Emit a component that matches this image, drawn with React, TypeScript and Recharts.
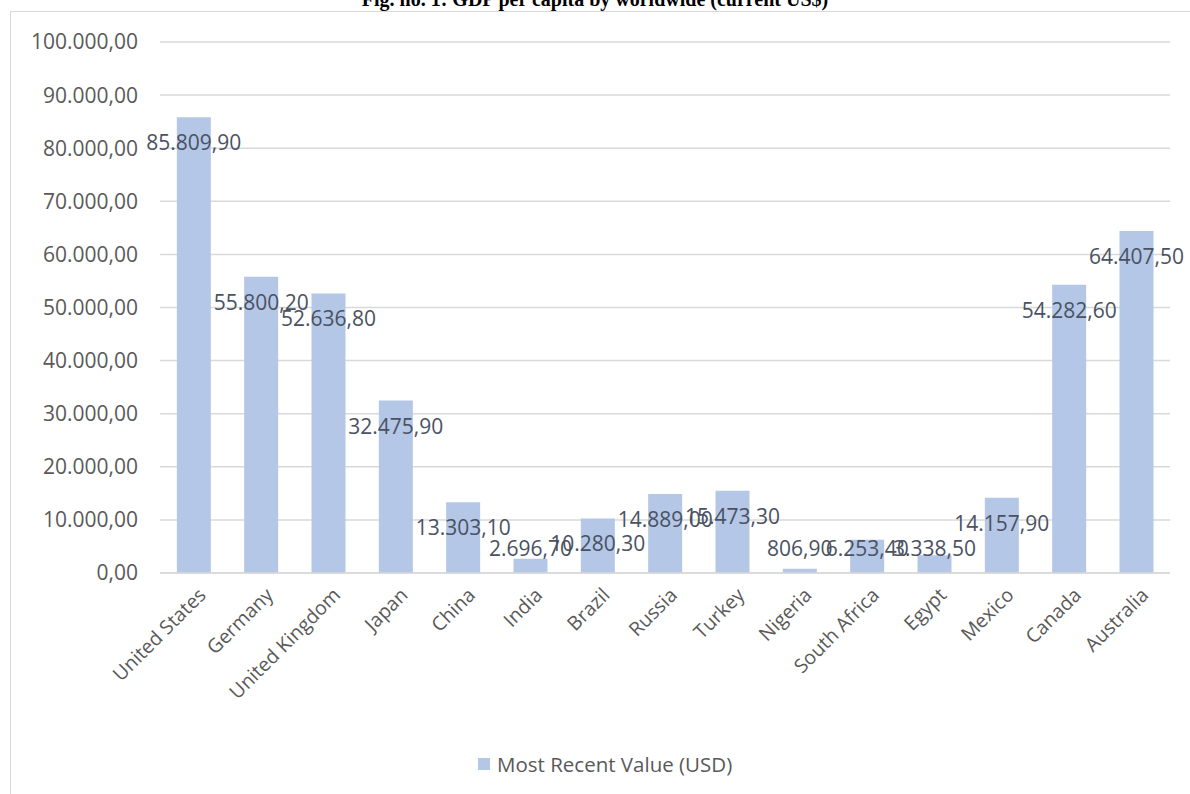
import React from "react"
import { BarChart, Bar, XAxis, YAxis, CartesianGrid, Legend, LabelList } from "recharts"

const countries = [
  "United States", "Germany", "United Kingdom", "Japan", "China", "India", "Brazil", "Russia",
  "Turkey", "Nigeria", "South Africa", "Egypt", "Mexico", "Canada", "Australia",
]
const gdpValues = [
  85809.9, 55800.2, 52636.8, 32475.9, 13303.1, 2696.7, 10280.3, 14889.0,
  15473.3, 806.9, 6253.4, 3338.5, 14157.9, 54282.6, 64407.5,
]
const yTicks = [0, 10000, 20000, 30000, 40000, 50000, 60000, 70000, 80000, 90000, 100000]

const data = countries.map((name, i) => ({ name, value: gdpValues[i] }))

const FONT = "'Open Sans', sans-serif"
const BAR_COLOR = "#b4c7e7"

// 1234.5 -> "1.234,50"
const fmt = (v: number) => {
  const [int, dec] = v.toFixed(2).split(".")
  return int.replace(/\B(?=(\d{3})+(?!\d))/g, ".") + "," + dec
}

const CountryTick = (props: any) => {
  const { x, y, payload } = props
  return (
    <text
      transform={`translate(${x + 8},${y + 10}) rotate(-45)`}
      textAnchor="end"
      dominantBaseline="central"
      fontSize={19.5}
      fontFamily={FONT}
      fill="#595959"
    >
      {payload.value}
    </text>
  )
}

const ValueLabel = (props: any) => {
  const vb = props.viewBox || props
  const { x, y, width, height } = vb
  const cy = Math.min(y + 25, y + height - 25)
  return (
    <text
      x={x + width / 2}
      y={cy}
      textAnchor="middle"
      dominantBaseline="central"
      fontSize={21}
      fontFamily={FONT}
      fill="#4a5262"
    >
      {fmt(props.value)}
    </text>
  )
}

const LegendContent = () => (
  <div style={{ display: "flex", alignItems: "center", fontFamily: FONT, fontSize: 20.5, color: "#595959" }}>
    <span style={{ width: 12, height: 12, background: BAR_COLOR, marginRight: 7, display: "inline-block" }} />
    <span>Most Recent Value (USD)</span>
  </div>
)

export default function App() {
  return (
    <div style={{ position: "absolute", left: 0, top: 0, width: 1190, height: 794, overflow: "hidden", background: "#fff" }}>
      <div
        style={{
          position: "absolute",
          left: 10,
          top: 11,
          width: 1250,
          height: 850,
          border: "1px solid #d9d9d9",
        }}
      />
      <div
        style={{
          position: "absolute",
          left: 0,
          width: 1190,
          top: -11,
          lineHeight: "20px",
          textAlign: "center",
          fontFamily: "'Liberation Serif', 'Times New Roman', serif",
          fontWeight: "bold",
          fontSize: 20,
          color: "#000",
        }}
      >
        Fig. no. 1: GDP per capita by worldwide (current US$)
      </div>
      <div style={{ position: "absolute", left: 0, top: 0 }}>
        <BarChart
          width={1190}
          height={794}
          data={data}
          margin={{ top: 42, right: 20, bottom: 0, left: 0 }}
          barCategoryGap="25%"
        >
          <CartesianGrid vertical={false} stroke="#d9d9d9" strokeWidth={1.5} />
          <XAxis
            dataKey="name"
            height={221}
            interval={0}
            tick={<CountryTick />}
            tickLine={false}
            axisLine={{ stroke: "#d9d9d9", strokeWidth: 1.5 }}
          />
          <YAxis
            width={160}
            domain={[0, 100000]}
            ticks={yTicks}
            tickFormatter={fmt}
            axisLine={false}
            tickLine={false}
            tickSize={0}
            tickMargin={22}
            tick={{ fontSize: 21, fontFamily: FONT, fill: "#595959" }}
          />
          <Legend
            layout="horizontal"
            verticalAlign="middle"
            align="center"
            content={<LegendContent />}
            wrapperStyle={{ top: 750, left: 478, width: 320, height: 26 }}
          />
          <Bar dataKey="value" name="Most Recent Value (USD)" fill={BAR_COLOR} isAnimationActive={false}>
            <LabelList dataKey="value" content={<ValueLabel />} />
          </Bar>
        </BarChart>
      </div>
    </div>
  )
}
